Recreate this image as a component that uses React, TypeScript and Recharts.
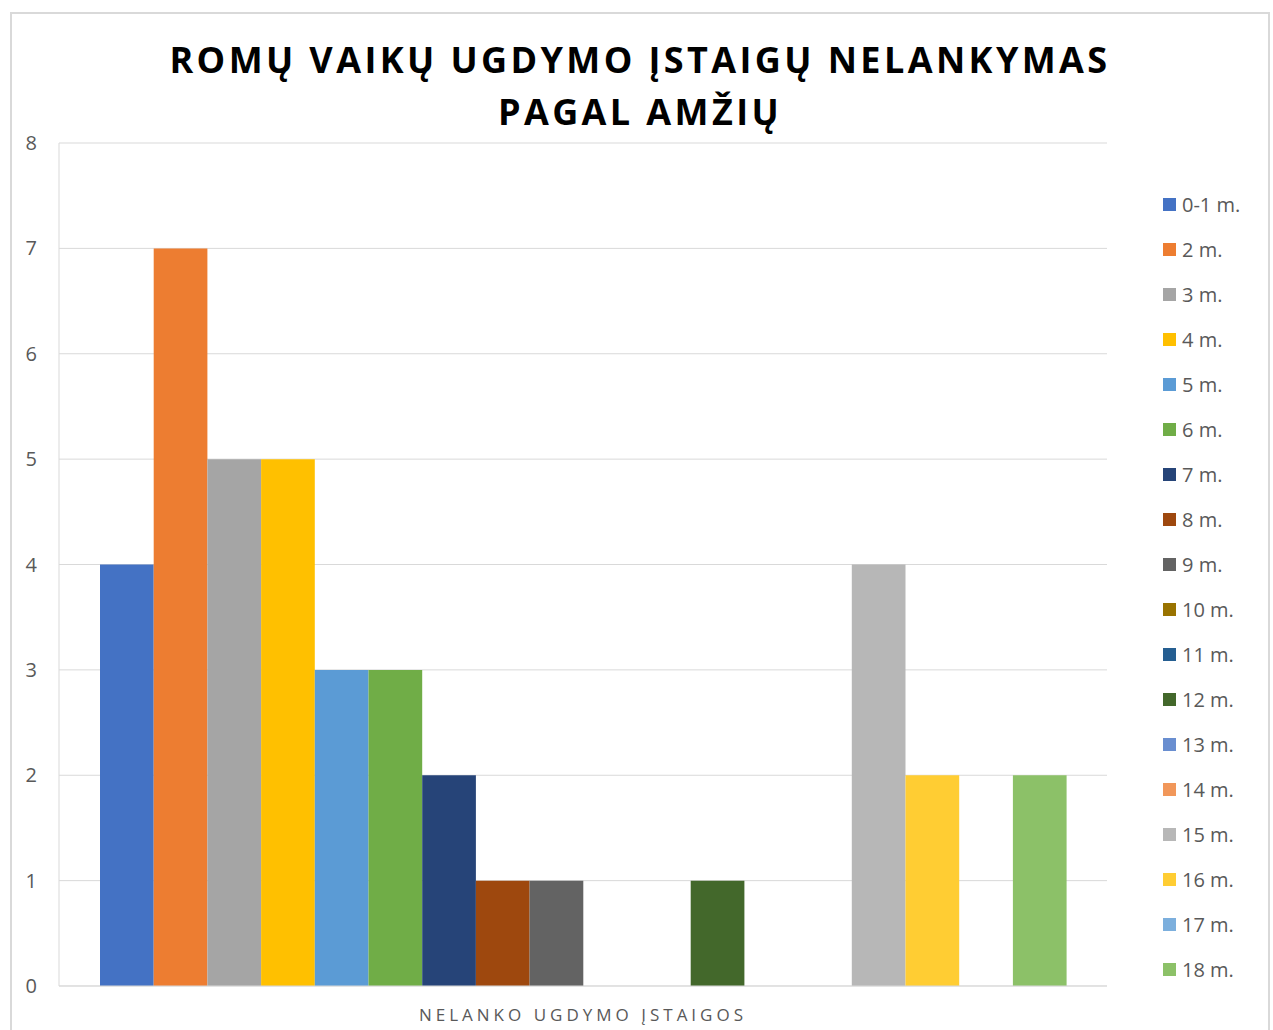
import { Bar, BarChart, CartesianGrid, XAxis, YAxis } from "recharts";

const CATEGORY = "NELANKO UGDYMO ĮSTAIGOS";
const AGES = [
  "0-1 m.", "2 m.", "3 m.", "4 m.", "5 m.", "6 m.", "7 m.", "8 m.", "9 m.",
  "10 m.", "11 m.", "12 m.", "13 m.", "14 m.", "15 m.", "16 m.", "17 m.", "18 m.",
];
const COUNTS = [4, 7, 5, 5, 3, 3, 2, 1, 1, 0, 0, 1, 0, 0, 4, 2, 0, 2];
const COLORS = [
  "#4472C4", "#ED7D31", "#A5A5A5", "#FFC000", "#5B9BD5", "#70AD47",
  "#264478", "#9E480E", "#636363", "#997300", "#255E91", "#43682B",
  "#698ED0", "#F1975A", "#B7B7B7", "#FFCD33", "#7CAFDD", "#8CC168",
];
const Y_TICKS = [0, 1, 2, 3, 4, 5, 6, 7, 8];

const row: Record<string, string | number> = { name: CATEGORY };
AGES.forEach((a, i) => {
  row[a] = COUNTS[i];
});
const data = [row];

const FONT = "'Open Sans', sans-serif";
const TEXT = "#595959";
const GRID = "#d9d9d9";

function CategoryTick({ x, y, payload }: any) {
  return (
    <text
      x={x}
      y={y + 27}
      textAnchor="middle"
      fill={TEXT}
      fontSize={17}
      fontFamily={FONT}
      letterSpacing={4}
    >
      {payload.value}
    </text>
  );
}

export default function App() {
  return (
    <div style={{ position: "absolute", left: 0, top: 0, width: 1273, height: 1030, background: "#fff" }}>
      <div
        style={{
          position: "absolute",
          left: 10,
          top: 12,
          width: 1260,
          height: 1030,
          border: `2px solid ${GRID}`,
          boxSizing: "border-box",
        }}
      />
      <div
        style={{
          position: "absolute",
          left: 0,
          top: 34,
          width: 1280,
          textAlign: "center",
          fontFamily: FONT,
          fontWeight: 700,
          fontSize: 36,
          letterSpacing: 3.4,
          lineHeight: "52px",
          color: "#000",
        }}
      >
        ROMŲ VAIKŲ UGDYMO ĮSTAIGŲ NELANKYMAS
        <br />
        PAGAL AMŽIŲ
      </div>
      <div style={{ position: "absolute", left: 0, top: 0 }}>
        <BarChart
          width={1273}
          height={1030}
          data={data}
          margin={{ top: 143, right: 166, bottom: 0, left: 0 }}
          barSize={53.7}
          barGap={0}
        >
          <CartesianGrid stroke={GRID} vertical={false} />
          <XAxis
            dataKey="name"
            height={44}
            tickLine={false}
            axisLine={{ stroke: GRID }}
            tick={<CategoryTick />}
          />
          <YAxis
            width={59}
            domain={[0, 8]}
            ticks={Y_TICKS}
            tickLine={false}
            tickSize={0}
            tickMargin={22}
            axisLine={{ stroke: GRID }}
            tick={{ fill: TEXT, fontSize: 20, fontFamily: FONT }}
          />
          {AGES.map((a, i) => (
            <Bar key={a} dataKey={a} fill={COLORS[i]} isAnimationActive={false} />
          ))}
        </BarChart>
      </div>
      <div style={{ position: "absolute", left: 1163, top: 182, fontFamily: FONT }}>
        {AGES.map((a, i) => (
          <div
            key={a}
            style={{ display: "flex", alignItems: "center", height: 45, fontSize: 20, color: TEXT }}
          >
            <span style={{ width: 13, height: 13, background: COLORS[i], marginRight: 6 }} />
            {a}
          </div>
        ))}
      </div>
    </div>
  );
}
